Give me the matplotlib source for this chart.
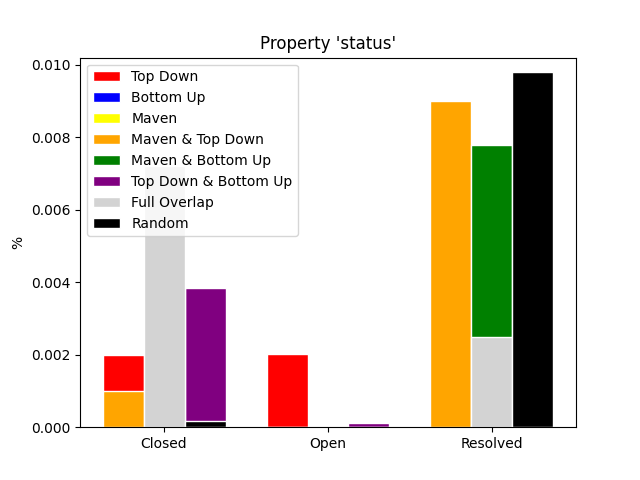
import matplotlib
matplotlib.use("Agg")
import matplotlib.pyplot as plt
import numpy as np

categories = ["Closed", "Open", "Resolved"]
series_names = ["Top Down", "Bottom Up", "Maven", "Maven & Top Down", "Maven & Bottom Up",
                "Top Down & Bottom Up", "Full Overlap", "Random"]
colors = ["red", "blue", "yellow", "orange", "green", "purple", "lightgray", "black"]
offsets = [-1, 0, 1, -1, 0, 1, 0, 1]
top_down = [0.00198, 0.00201, 0.0]
bottom_up = [0.0, 0.0, 0.0]
maven = [0.0, 0.0, 0.0]
maven_top_down = [0.00101, 0.0, 0.0090]
maven_bottom_up = [0.0, 0.0, 0.0078]
top_down_bottom_up = [0.00383, 0.00011, 0.0]
full_overlap = [0.0072, 0.0, 0.0025]
random_ = [0.00016, 0.0, 0.0098]
values = [top_down, bottom_up, maven, maven_top_down, maven_bottom_up,
          top_down_bottom_up, full_overlap, random_]

fig, ax = plt.subplots(figsize=(6.4, 4.8), dpi=100)
x = np.arange(len(categories))
w = 0.25
for name, c, o, v in zip(series_names, colors, offsets, values):
    ax.bar(x + o * w, v, w, color=c, edgecolor="white", label=name)
ax.set_xticks(x)
ax.set_xticklabels(categories)
ax.set_ylabel("%")
ax.set_title("Property 'status'")
ax.set_ylim(0, 0.0102)
ax.legend(loc="upper left")
fig.savefig("out.png")
